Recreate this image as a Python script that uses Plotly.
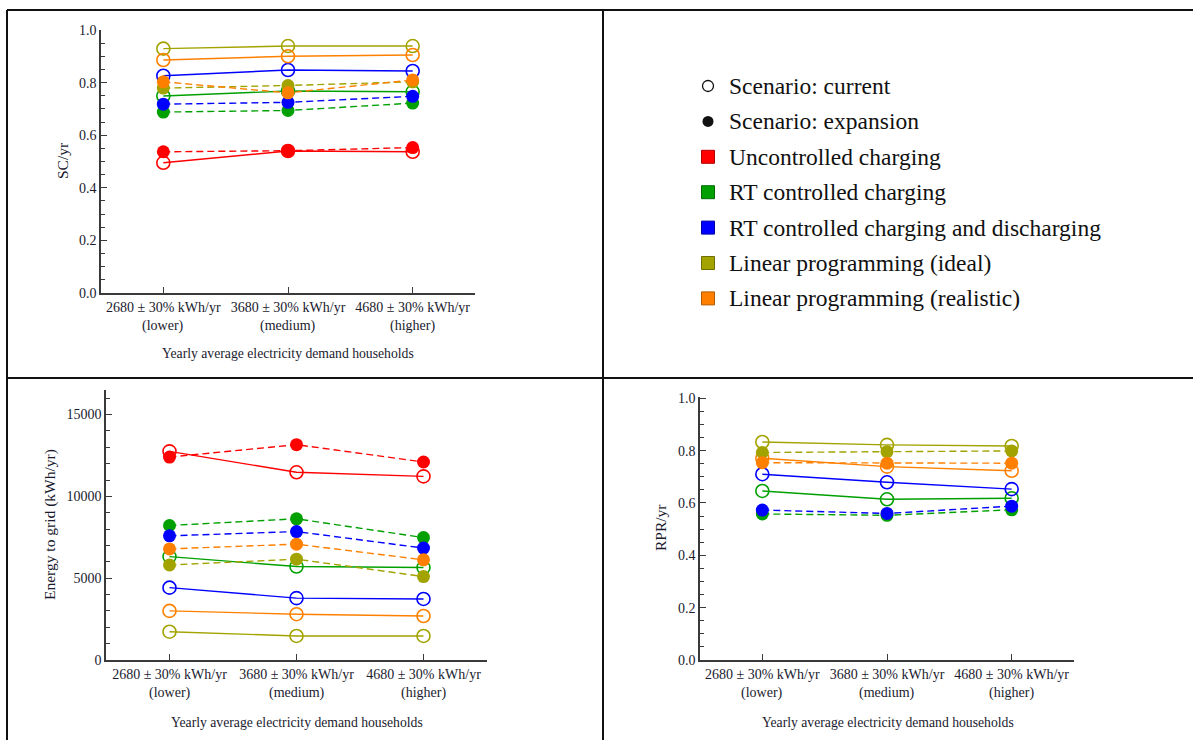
import plotly.graph_objects as go

# ---------------- data ----------------
demand_labels = ["2680 ± 30% kWh/yr", "3680 ± 30% kWh/yr", "4680 ± 30% kWh/yr"]
demand_levels = ["(lower)", "(medium)", "(higher)"]
x_title = "Yearly average electricity demand households"

strategies = [
    "Uncontrolled charging",
    "RT controlled charging",
    "RT controlled charging and discharging",
    "Linear programming (ideal)",
    "Linear programming (realistic)",
]
colors = ["#ff0000", "#00a000", "#0000ff", "#a3a300", "#ff8000"]
edge_colors = ["#b30000", "#006b00", "#0000a8", "#6e6e00", "#b35900"]

# self-consumption per year
sc_current = [
    [0.495, 0.540, 0.537],
    [0.749, 0.768, 0.765],
    [0.826, 0.848, 0.844],
    [0.929, 0.939, 0.939],
    [0.886, 0.900, 0.905],
]
sc_expansion = [
    [0.537, 0.541, 0.553],
    [0.688, 0.694, 0.722],
    [0.718, 0.725, 0.748],
    [0.779, 0.789, 0.803],
    [0.803, 0.761, 0.810],
]

# energy fed to the grid (kWh/yr)
grid_current = [
    [12750, 11470, 11220],
    [6320, 5710, 5650],
    [4420, 3780, 3730],
    [1730, 1470, 1470],
    [3000, 2800, 2690],
]
grid_expansion = [
    [12400, 13160, 12100],
    [8220, 8630, 7480],
    [7590, 7850, 6840],
    [5810, 6160, 5100],
    [6790, 7080, 6120],
]

# RPR per year (no uncontrolled-charging series)
rpr_current = [
    None,
    [0.646, 0.614, 0.618],
    [0.710, 0.679, 0.653],
    [0.833, 0.822, 0.818],
    [0.771, 0.739, 0.723],
]
rpr_expansion = [
    None,
    [0.558, 0.553, 0.574],
    [0.573, 0.560, 0.588],
    [0.793, 0.796, 0.799],
    [0.754, 0.752, 0.752],
]

scenario_labels = ["Scenario: current", "Scenario: expansion"]

# ---------------- layout helpers ----------------
W, H = 1193, 740
FONT = "Liberation Serif"
TXT = "#1a1a2e"


def fx(px):
    return px / W


def fy(py):
    return 1 - py / H


cat_x = list(range(len(demand_labels)))

fig = go.Figure()


def add_panel(current, expansion, xa, ya):
    for i in range(len(strategies)):
        if current[i] is not None:
            fig.add_trace(go.Scatter(
                x=cat_x, y=current[i], xaxis=xa, yaxis=ya, mode="lines+markers",
                line=dict(color=colors[i], width=1.4),
                marker=dict(symbol="circle-open", size=13, color=colors[i],
                            line=dict(width=1.6, color=colors[i])),
                showlegend=False, hoverinfo="skip"))
    for i in range(len(strategies)):
        if expansion[i] is not None:
            fig.add_trace(go.Scatter(
                x=cat_x, y=expansion[i], xaxis=xa, yaxis=ya, mode="lines+markers",
                line=dict(color=colors[i], width=1.4, dash="7px,4px"),
                marker=dict(symbol="circle", size=13, color=colors[i]),
                showlegend=False, hoverinfo="skip"))


add_panel(sc_current, sc_expansion, "x", "y")
add_panel(grid_current, grid_expansion, "x2", "y2")
add_panel(rpr_current, rpr_expansion, "x3", "y3")

axis_common = dict(
    showline=True, linecolor="#3a3a3a", linewidth=1.6, showgrid=False,
    zeroline=False, ticks="inside", tickcolor="#3a3a3a", tickwidth=1.4,
    automargin=False,
    tickfont=dict(family=FONT, size=14, color=TXT),
)


def x_axis(x0, x1, y_anchor):
    return dict(axis_common, domain=[fx(x0), fx(x1)], anchor=y_anchor,
                range=[-0.5, 2.5], tickmode="array", tickvals=cat_x,
                ticktext=demand_labels, ticklen=6)


def y_axis(top, bottom, x_anchor, rng, dtick, minor, fmt):
    return dict(axis_common, domain=[fy(bottom), fy(top)], anchor=x_anchor,
                range=rng, dtick=dtick, tick0=0, ticklen=6, tickformat=fmt,
                minor=dict(dtick=minor, tick0=0, ticks="inside", ticklen=4,
                           tickcolor="#3a3a3a", tickwidth=1.2))


layout = dict(
    template="none",
    width=W, height=H, autosize=False,
    margin=dict(l=0, r=0, t=0, b=0, pad=0, autoexpand=False),
    paper_bgcolor="white", plot_bgcolor="white", showlegend=False,
    font=dict(family=FONT, color=TXT),
    xaxis=x_axis(101, 475, "y"),
    yaxis=y_axis(30, 293, "x", [0, 1.0], 0.2, 0.05, ".1f"),
    xaxis2=x_axis(106, 487, "y2"),
    yaxis2=y_axis(390, 660, "x2", [0, 16500], 5000, 1000, "d"),
    xaxis3=x_axis(700, 1074, "y3"),
    yaxis3=y_axis(397, 660, "x3", [0, 1.005], 0.2, 0.05, ".1f"),
    # legend area
    xaxis4=dict(domain=[fx(690), fx(1190)], range=[690, 1190], visible=False,
                anchor="y4", fixedrange=True, automargin=False),
    yaxis4=dict(domain=[fy(330), fy(60)], range=[330, 60], visible=False,
                anchor="x4", fixedrange=True, automargin=False),
)
fig.update_layout(**layout)

annotations = []

# second line of the category labels and axis titles
panels = [
    # xref, x-title centre x, x-title y, level-line y, y-title x, y-title centre y, y title
    ("x", 288, 353, 326, 62, 161, "SC/yr"),
    ("x2", 297, 722, 693, 50, 525, "Energy to grid (kWh/yr)"),
    ("x3", 888, 722, 693, 660, 528, "RPR/yr"),
]
for xref, tx, ty, ly, yx, yy, ytitle in panels:
    for c, lvl in zip(cat_x, demand_levels):
        annotations.append(dict(x=c, xref=xref, y=fy(ly), yref="paper", text=lvl,
                                showarrow=False, xanchor="center", yanchor="middle",
                                font=dict(family=FONT, size=14, color=TXT)))
    annotations.append(dict(x=fx(tx), y=fy(ty), xref="paper", yref="paper",
                            text=x_title, showarrow=False, xanchor="center",
                            yanchor="middle", font=dict(family=FONT, size=13.7, color=TXT)))
    annotations.append(dict(x=fx(yx), y=fy(yy), xref="paper", yref="paper",
                            text=ytitle, showarrow=False, textangle=-90,
                            xanchor="center", yanchor="middle",
                            font=dict(family=FONT, size=15.5, color=TXT)))

# legend: scenario markers followed by strategy swatches
legend_labels = scenario_labels + strategies
row0, row_step = 86, 35.4
marker_x, text_x = 708, 727
rows = [row0 + k * row_step for k in range(len(legend_labels))]

fig.add_trace(go.Scatter(
    x=[marker_x], y=[rows[0]], xaxis="x4", yaxis="y4", mode="markers",
    marker=dict(symbol="circle-open", size=11, color="#111", line=dict(width=1.3, color="#111")),
    showlegend=False, hoverinfo="skip"))
fig.add_trace(go.Scatter(
    x=[marker_x], y=[rows[1]], xaxis="x4", yaxis="y4", mode="markers",
    marker=dict(symbol="circle", size=11, color="#111"),
    showlegend=False, hoverinfo="skip"))
fig.add_trace(go.Scatter(
    x=[marker_x] * len(strategies), y=rows[2:], xaxis="x4", yaxis="y4", mode="markers",
    marker=dict(symbol="square", size=13, color=colors, line=dict(width=1, color=edge_colors)),
    showlegend=False, hoverinfo="skip"))

for r, lab in zip(rows, legend_labels):
    annotations.append(dict(x=text_x, y=r, xref="x4", yref="y4", text=lab,
                            showarrow=False, xanchor="left", yanchor="middle",
                            font=dict(family=FONT, size=23.5, color="#111")))

fig.update_layout(annotations=annotations)

# panel frame lines
frame = [
    (7, 10, W, 10),
    (7, 10, 7, H),
    (603, 10, 603, H),
    (7, 378, W, 378),
]
fig.update_layout(shapes=[
    dict(type="line", xref="paper", yref="paper", x0=fx(a), y0=fy(b), x1=fx(c), y1=fy(d),
         line=dict(color="#111", width=2))
    for a, b, c, d in frame
])

fig.write_html("out.html")
